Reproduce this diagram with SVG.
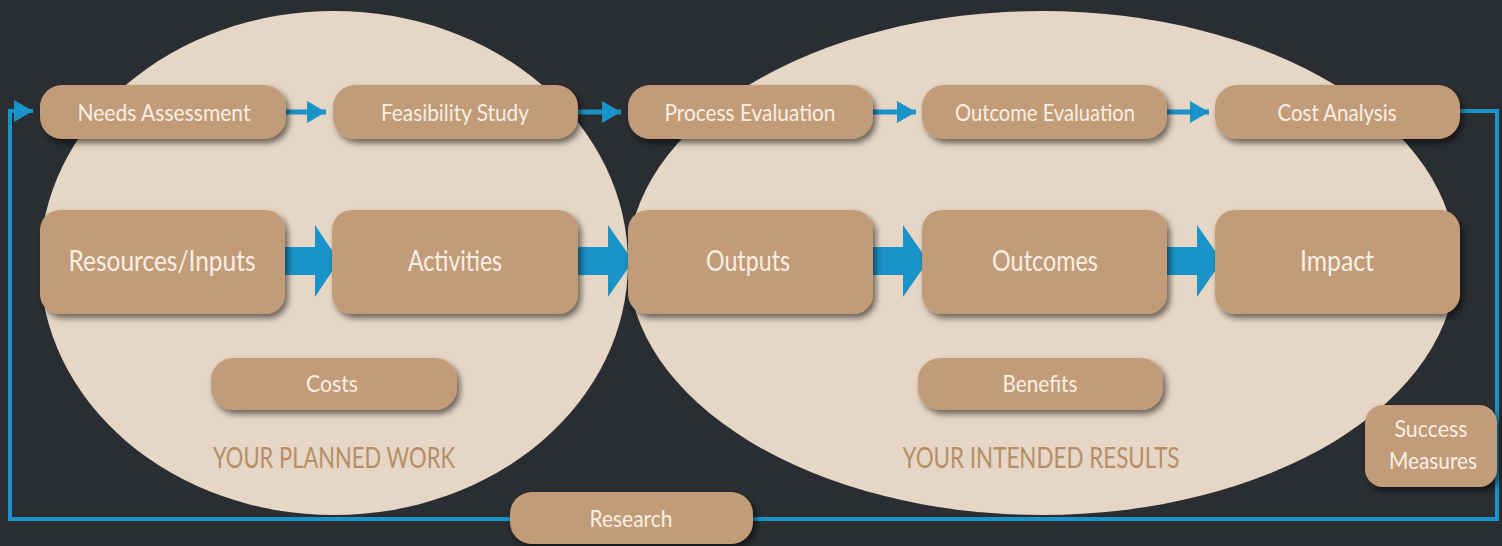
<svg xmlns="http://www.w3.org/2000/svg" width="1502" height="546" viewBox="0 0 1502 546">
<style>
.box{fill:#c29c78;filter:url(#sh)}
.t{font-family:Lato,"Open Sans","Liberation Sans",sans-serif;fill:#f8efe4;text-anchor:middle}
.t1{font-size:24px}
.t2{font-size:29px}
.t3{font-size:23px}
.lbl{font-family:Lato,"Open Sans","Liberation Sans",sans-serif;fill:#b58e68;text-anchor:middle;font-size:29px}
.small{stroke:#1a93c8;stroke-width:5;fill:none}
.big{fill:#1a93c8}
.loop{stroke:#1a93c8;stroke-width:4;fill:none}
</style>
<defs>
<filter id="sh" x="-10%" y="-20%" width="125%" height="150%">
<feDropShadow dx="3" dy="4" stdDeviation="3" flood-color="#000" flood-opacity="0.55"/>
</filter>
<marker id="ah" markerUnits="userSpaceOnUse" viewBox="0 0 20 24" markerWidth="20" markerHeight="24" refX="19" refY="12" orient="auto">
<path d="M0,1 L19,12 L0,23 Z" fill="#1a93c8"/>
</marker>
</defs>
<rect width="1502" height="546" fill="#2a2d31"/>
<g id="ellipses">
<ellipse cx="334" cy="263" rx="294" ry="252" fill="#e6d6c5"/>
<ellipse cx="1042" cy="263" rx="414" ry="252" fill="#e6d6c5"/>
</g>
<g id="connectors">
<path class="loop" d="M1458,111 H1497 V519 H10 V111 H33" marker-end="url(#ah)"/>
<path class="small" d="M286,112 H326" marker-end="url(#ah)"/>
<path class="small" d="M577,112 H621" marker-end="url(#ah)"/>
<path class="small" d="M873,112 H916" marker-end="url(#ah)"/>
<path class="small" d="M1167,112 H1209" marker-end="url(#ah)"/>
<path class="big" d="M282,247 H315 V225 L339,261 L315,297 V275 H282 Z"/>
<path class="big" d="M575,247 H608 V225 L633,261 L608,297 V275 H575 Z"/>
<path class="big" d="M870,247 H903 V225 L928,261 L903,297 V275 H870 Z"/>
<path class="big" d="M1164,247 H1197 V225 L1222,261 L1197,297 V275 H1164 Z"/>
</g>
<g id="needs"><rect class="box" x="40" y="85" width="246" height="54" rx="22"/><text class="t t1" x="164" y="121" textLength="173" lengthAdjust="spacingAndGlyphs">Needs Assessment</text></g>
<g id="feasibility"><rect class="box" x="333" y="85" width="245" height="54" rx="22"/><text class="t t1" x="455" y="121" textLength="148" lengthAdjust="spacingAndGlyphs">Feasibility Study</text></g>
<g id="process"><rect class="box" x="628" y="85" width="245" height="54" rx="22"/><text class="t t1" x="750" y="121" textLength="171" lengthAdjust="spacingAndGlyphs">Process Evaluation</text></g>
<g id="outcomeeval"><rect class="box" x="922" y="85" width="245" height="54" rx="22"/><text class="t t1" x="1045" y="121" textLength="180" lengthAdjust="spacingAndGlyphs">Outcome Evaluation</text></g>
<g id="costanalysis"><rect class="box" x="1215" y="85" width="245" height="54" rx="22"/><text class="t t1" x="1337" y="121" textLength="119" lengthAdjust="spacingAndGlyphs">Cost Analysis</text></g>
<g id="resources"><rect class="box" x="40" y="210" width="245" height="104" rx="20"/><text class="t t2" x="162" y="271" textLength="187" lengthAdjust="spacingAndGlyphs">Resources/Inputs</text></g>
<g id="activities"><rect class="box" x="332" y="210" width="246" height="104" rx="20"/><text class="t t2" x="455" y="271" textLength="94" lengthAdjust="spacingAndGlyphs">Activities</text></g>
<g id="outputs"><rect class="box" x="628" y="210" width="245" height="104" rx="20"/><text class="t t2" x="748" y="271" textLength="84" lengthAdjust="spacingAndGlyphs">Outputs</text></g>
<g id="outcomes"><rect class="box" x="922" y="210" width="245" height="104" rx="20"/><text class="t t2" x="1045" y="271" textLength="106" lengthAdjust="spacingAndGlyphs">Outcomes</text></g>
<g id="impact"><rect class="box" x="1215" y="210" width="245" height="104" rx="20"/><text class="t t2" x="1337" y="271" textLength="74" lengthAdjust="spacingAndGlyphs">Impact</text></g>
<g id="costs"><rect class="box" x="211" y="358" width="246" height="52" rx="22"/><text class="t t3" x="332" y="392" textLength="52" lengthAdjust="spacingAndGlyphs">Costs</text></g>
<g id="benefits"><rect class="box" x="918" y="358" width="245" height="52" rx="22"/><text class="t t3" x="1040" y="392" textLength="75" lengthAdjust="spacingAndGlyphs">Benefits</text></g>
<g id="research"><rect class="box" x="510" y="492" width="243" height="52" rx="22"/><text class="t t3" x="631" y="527" textLength="83" lengthAdjust="spacingAndGlyphs">Research</text></g>
<g id="success"><rect class="box" x="1365" y="405" width="132" height="82" rx="18"/><text class="t t3" x="1431" y="437" textLength="73" lengthAdjust="spacingAndGlyphs">Success</text><text class="t t3" x="1433" y="469" textLength="88" lengthAdjust="spacingAndGlyphs">Measures</text></g>
<g id="labels">
<text class="lbl" x="334" y="468" textLength="242" lengthAdjust="spacingAndGlyphs">YOUR PLANNED WORK</text>
<text class="lbl" x="1041" y="468" textLength="277" lengthAdjust="spacingAndGlyphs">YOUR INTENDED RESULTS</text>
</g>
</svg>
